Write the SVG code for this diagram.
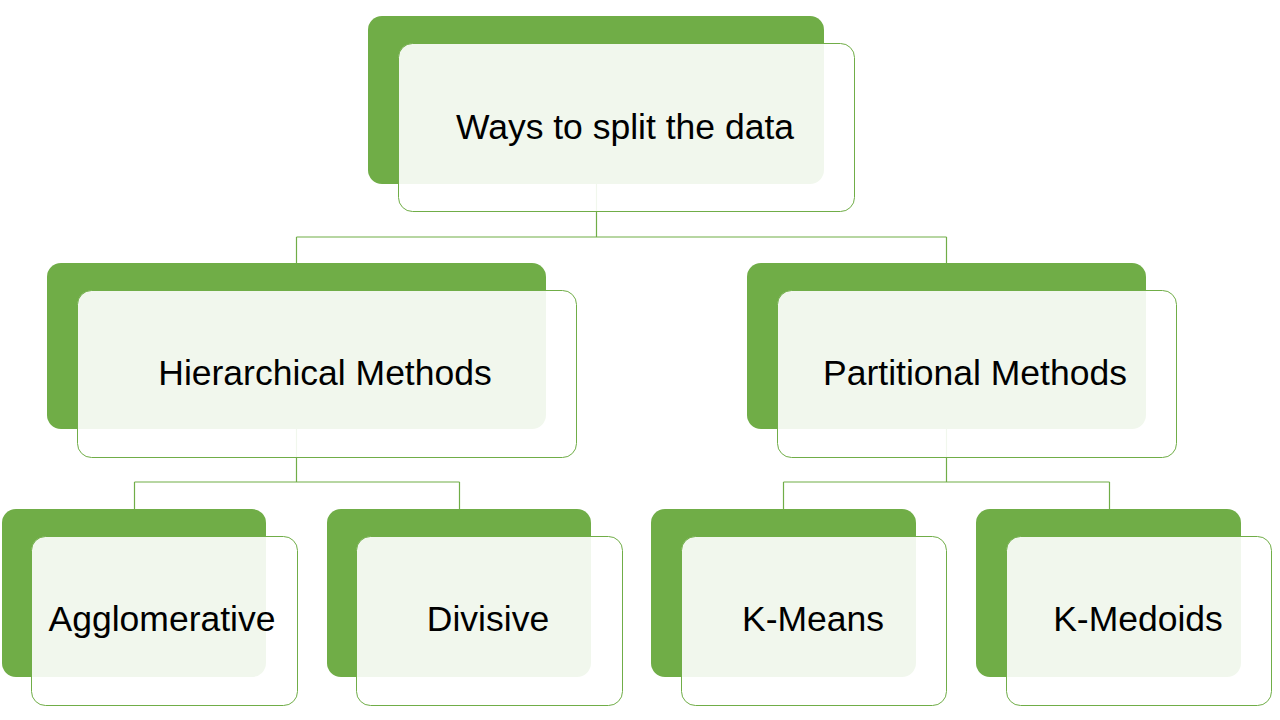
<svg xmlns="http://www.w3.org/2000/svg" width="1280" height="720" viewBox="0 0 1280 720">
<style>
.back{fill:#70AD47;}
.front{fill:#FFFFFF;fill-opacity:0.9;stroke:#70AD47;stroke-width:1;}
.conn{fill:none;stroke:#70AD47;stroke-width:1.2;}
.lbl{font-family:"Liberation Sans",Arial,sans-serif;font-size:35.5px;fill:#000000;text-anchor:middle;dominant-baseline:central;}
</style>
<rect width="1280" height="720" fill="#FFFFFF"/>
<g id="connectors">
<path class="conn" d="M596.5,184 V237 M296.5,237 H946.5 M296.5,237 V263 M946.5,237 V263"/>
<path class="conn" d="M296.5,429 V482 M134.5,482 H459.5 M134.5,482 V509 M459.5,482 V509"/>
<path class="conn" d="M946.5,429 V482 M783.5,482 H1109.5 M783.5,482 V509 M1109.5,482 V509"/>
</g>
<g id="root">
<rect class="back" x="368" y="16" width="456" height="168" rx="14"/>
<rect class="front" x="398.5" y="43.5" width="456" height="168" rx="14"/>
<text class="lbl" x="625" y="127">Ways to split the data</text>
</g>
<g id="hierarchical">
<rect class="back" x="47" y="263" width="499" height="166" rx="14"/>
<rect class="front" x="77.5" y="290.5" width="499" height="167" rx="14"/>
<text class="lbl" x="325" y="373">Hierarchical Methods</text>
</g>
<g id="partitional">
<rect class="back" x="747" y="263" width="399" height="166" rx="14"/>
<rect class="front" x="777.5" y="290.5" width="399" height="167" rx="14"/>
<text class="lbl" x="975" y="373">Partitional Methods</text>
</g>
<g id="agglomerative">
<rect class="back" x="2" y="509" width="264" height="168" rx="14"/>
<rect class="front" x="31.5" y="536.5" width="266" height="169" rx="14"/>
<text class="lbl" x="162" y="619">Agglomerative</text>
</g>
<g id="divisive">
<rect class="back" x="327" y="509" width="264" height="168" rx="14"/>
<rect class="front" x="356.5" y="536.5" width="266" height="169" rx="14"/>
<text class="lbl" x="488" y="619">Divisive</text>
</g>
<g id="kmeans">
<rect class="back" x="651" y="509" width="265" height="168" rx="14"/>
<rect class="front" x="681.5" y="536.5" width="265" height="169" rx="14"/>
<text class="lbl" x="813" y="619">K-Means</text>
</g>
<g id="kmedoids">
<rect class="back" x="976" y="509" width="265" height="168" rx="14"/>
<rect class="front" x="1006.5" y="536.5" width="265" height="169" rx="14"/>
<text class="lbl" x="1138" y="619">K-Medoids</text>
</g>
</svg>
